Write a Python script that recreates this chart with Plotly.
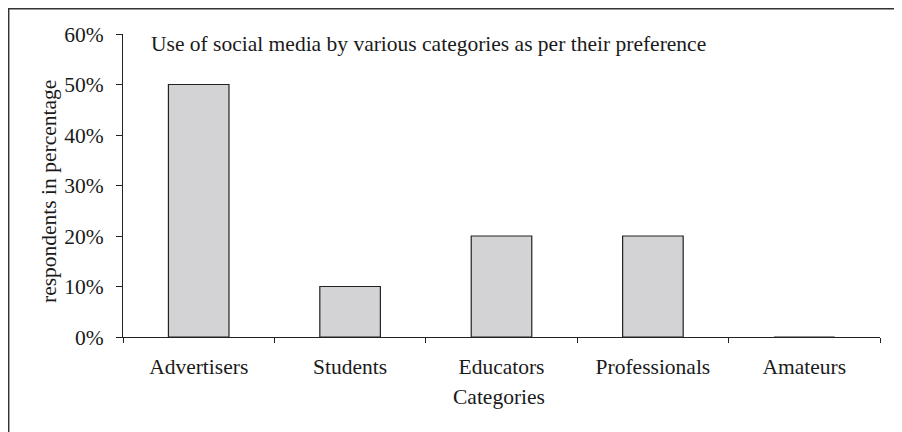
import plotly.graph_objects as go

categories = ["Advertisers", "Students", "Educators", "Professionals", "Amateurs"]
values = [0.50, 0.10, 0.20, 0.20, 0.0]
title_text = "Use of social media by various categories as per their preference"
y_title = "respondents in percentage"
x_title = "Categories"

# page body has an 8px margin, so figure coords = screen coords - 8
OFF = 8
W, H = 894, 424
L, R, T, B = 115, 22, 26, 95
pw, ph = W - L - R, H - T - B

def px(x):
    return (x - OFF - L) / pw

def py(y):
    return (H - B - (y - OFF)) / ph

font = dict(family="Liberation Serif, Times New Roman, serif", size=21.5, color="#1a1a1a")

fig = go.Figure(go.Bar(
    x=categories, y=values, width=0.4,
    marker=dict(color="#d3d3d5", line=dict(color="#222222", width=1.2)),
))

fig.update_layout(
    width=W, height=H,
    margin=dict(l=L, r=R, t=T, b=B),
    paper_bgcolor="white", plot_bgcolor="white",
    font=font, showlegend=False,
    xaxis=dict(
        showline=True, linecolor="#222222", linewidth=1.2,
        ticks="outside", ticklen=5, tickcolor="#222222", tickwidth=1.2,
        tickson="boundaries", showgrid=False, zeroline=False,
        ticklabelstandoff=10,
        range=[-0.5, 4.5],
    ),
    yaxis=dict(
        range=[0, 0.6], dtick=0.1, tickformat=".0%",
        showline=True, linecolor="#222222", linewidth=1.2,
        ticks="outside", ticklen=6, tickcolor="#222222", tickwidth=1.2,
        showgrid=False, zeroline=False, ticklabelstandoff=8,
    ),
    annotations=[
        dict(text=title_text, xref="paper", yref="paper", x=px(149), y=py(44),
             xanchor="left", yanchor="middle", showarrow=False, font=font),
        dict(text=y_title, xref="paper", yref="paper", x=px(49), y=py(192),
             xanchor="center", yanchor="middle", textangle=-90, showarrow=False, font=font),
        dict(text=x_title, xref="paper", yref="paper", x=px(499), y=py(397),
             xanchor="center", yanchor="middle", showarrow=False, font=font),
    ],
    shapes=[
        dict(type="path", xref="paper", yref="paper",
             path=f"M {px(8.7)} {py(440)} L {px(8.7)} {py(8.7)} L {px(910)} {py(8.7)}",
             line=dict(color="#333333", width=1.5)),
    ],
)

fig.write_html("out.html")
